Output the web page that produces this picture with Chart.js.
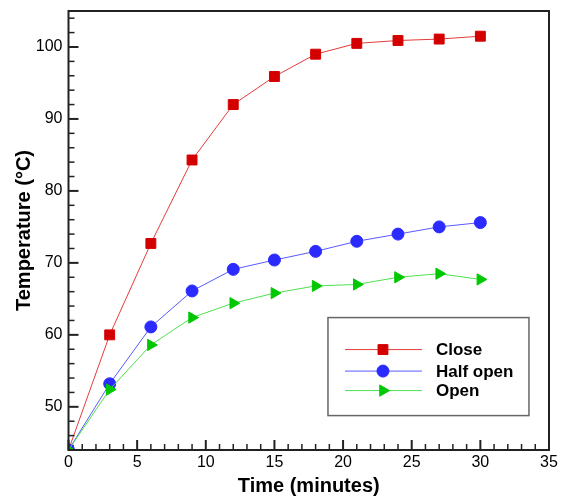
<!DOCTYPE html>
<html>
<head>
<meta charset="utf-8">
<script src="https://cdn.jsdelivr.net/npm/chart.js@4.4.0/dist/chart.umd.min.js"></script>
<style>
  html, body { margin: 0; padding: 0; background: #fff; }
  #wrap { width: 566px; height: 497px; }
</style>
</head>
<body>
<div id="wrap"><canvas id="myChart" width="566" height="497"></canvas></div>
<script>
// time in minutes
const times = [0, 3, 6, 9, 12, 15, 18, 21, 24, 27, 30];
const closeTemp = [44, 60.0, 72.7, 84.3, 92.0, 95.9, 99.0, 100.5, 100.9, 101.1, 101.5];
const halfOpenTemp = [44, 53.2, 61.1, 66.1, 69.1, 70.4, 71.6, 73.0, 74.0, 75.0, 75.6];
const openTemp = [44, 52.4, 58.6, 62.4, 64.4, 65.8, 66.8, 67.0, 68.0, 68.5, 67.7];
const xTicks = [0, 5, 10, 15, 20, 25, 30, 35];
const yTicks = [50, 60, 70, 80, 90, 100];

const toPoints = (ys) => times.map((t, i) => ({ x: t, y: ys[i] }));
const fontFam = "'Liberation Sans', Arial, sans-serif";

// inward ticks, plot frame and the legend box
const framePlugin = {
  id: 'frame',
  afterDraw(chart) {
    const ctx = chart.ctx;
    const a = chart.chartArea;
    const xs = chart.scales.x, ys = chart.scales.y;
    ctx.save();
    ctx.strokeStyle = '#222';
    for (let v = 0; v <= 35; v++) {
      const px = xs.getPixelForValue(v);
      const major = v % 5 === 0;
      ctx.lineWidth = major ? 2 : 1.5;
      ctx.beginPath();
      ctx.moveTo(px, a.bottom);
      ctx.lineTo(px, a.bottom - (major ? 10 : 6));
      ctx.stroke();
    }
    for (let v = 46; v <= 104; v += 2) {
      const py = ys.getPixelForValue(v);
      const major = v % 10 === 0;
      ctx.lineWidth = major ? 2 : 1.5;
      ctx.beginPath();
      ctx.moveTo(a.left, py);
      ctx.lineTo(a.left + (major ? 10 : 6), py);
      ctx.stroke();
    }
    ctx.lineWidth = 2;
    ctx.strokeRect(a.left, a.top, a.right - a.left, a.bottom - a.top);

    // legend
    const lx = xs.getPixelForValue(18.9), ly = ys.getPixelForValue(62.4);
    const lw = 201, lh = 98;
    ctx.fillStyle = '#fff';
    ctx.fillRect(lx, ly, lw, lh);
    ctx.strokeStyle = '#666';
    ctx.lineWidth = 1.5;
    ctx.strokeRect(lx, ly, lw, lh);
    const rows = [32, 53.5, 73];
    chart.data.datasets.forEach((ds, i) => {
      const y = ly + rows[i];
      ctx.strokeStyle = ds.borderColor;
      ctx.lineWidth = 1;
      ctx.beginPath();
      ctx.moveTo(lx + 17, y);
      ctx.lineTo(lx + 94, y);
      ctx.stroke();
      ctx.fillStyle = ds.pointBackgroundColor;
      ctx.strokeStyle = ds.pointBackgroundColor;
      Chart.helpers.drawPoint(ctx, {
        pointStyle: ds.pointStyle,
        rotation: ds.pointRotation || 0,
        radius: ds.pointRadius,
        borderWidth: 1
      }, lx + 55, y);
      ctx.fillStyle = '#000';
      ctx.font = 'bold 17px ' + fontFam;
      ctx.textBaseline = 'middle';
      ctx.textAlign = 'left';
      ctx.fillText(ds.label, lx + 108, y + 1);
    });
    ctx.restore();
  }
};

const datasets = [
  { label: 'Close', data: toPoints(closeTemp), borderColor: '#e23c3c', pointBackgroundColor: '#d40000',
    pointStyle: 'rect', pointRadius: 7, order: 3 },
  { label: 'Half open', data: toPoints(halfOpenTemp), borderColor: '#5a5aff', pointBackgroundColor: '#2b2bff',
    pointStyle: 'circle', pointRadius: 6, order: 2 },
  { label: 'Open', data: toPoints(openTemp), borderColor: '#4ee04e', pointBackgroundColor: '#00c800',
    pointStyle: 'triangle', pointRotation: 90, pointRadius: 6.5, order: 1 }
].map(d => Object.assign({
  borderWidth: 1,
  pointBorderWidth: 1,
  pointBorderColor: d.pointBackgroundColor,
  backgroundColor: d.pointBackgroundColor,
  tension: 0,
  fill: false
}, d));

new Chart(document.getElementById('myChart'), {
  type: 'line',
  data: { datasets: datasets },
  options: {
    responsive: false,
    animation: false,
    events: [],
    layout: { padding: { left: 0, top: 11, right: 17, bottom: 0 } },
    plugins: { legend: { display: false }, tooltip: { enabled: false } },
    scales: {
      x: {
        type: 'linear', min: 0, max: 35,
        afterBuildTicks: (s) => { s.ticks = xTicks.map(v => ({ value: v })); },
        afterFit: (s) => { s.height = 47; s.paddingLeft = 0; s.paddingRight = 0; },
        grid: { display: false, drawTicks: false },
        border: { display: false },
        ticks: { color: '#000', padding: 3, maxRotation: 0, font: { size: 16, family: fontFam } },
        title: { display: true, text: 'Time (minutes)', color: '#000', padding: { top: 0, bottom: 0 },
          font: { size: 20, weight: 'bold', family: fontFam, lineHeight: 1.1 } }
      },
      y: {
        type: 'linear', min: 44, max: 105,
        afterBuildTicks: (s) => { s.ticks = yTicks.map(v => ({ value: v })); },
        afterFit: (s) => { s.width = 68.5; s.paddingTop = 0; s.paddingBottom = 0; },
        grid: { display: false, drawTicks: false },
        border: { display: false },
        ticks: { color: '#000', padding: 6, font: { size: 16, family: fontFam } },
        title: { display: true, text: 'Temperature (°C)', color: '#000', padding: { top: 13, bottom: 0 },
          font: { size: 20, weight: 'bold', family: fontFam, lineHeight: 1.1 } }
      }
    }
  },
  plugins: [framePlugin]
});
</script>
</body>
</html>
